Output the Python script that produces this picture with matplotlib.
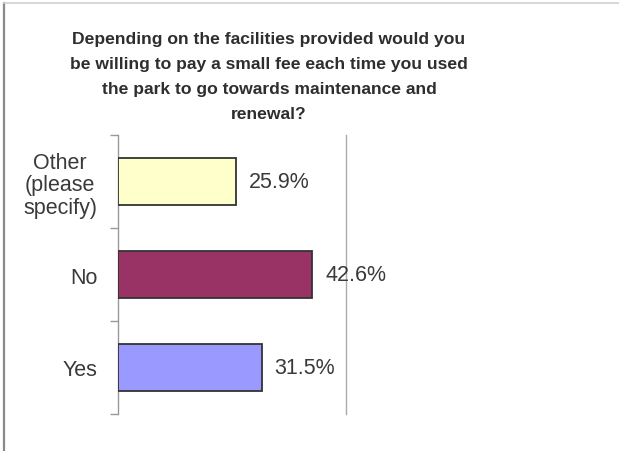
import matplotlib
matplotlib.use("Agg")
import matplotlib.pyplot as plt
from matplotlib.lines import Line2D

plt.rcParams['font.family'] = ['Liberation Sans', 'DejaVu Sans']

categories = ["Yes", "No", "Other\n(please\nspecify)"]
values = [31.5, 42.6, 25.9]
colors = ["#9999FF", "#993366", "#FFFFCC"]
title = ("Depending on the facilities provided would you\n"
         "be willing to pay a small fee each time you used\n"
         "the park to go towards maintenance and\n"
         "renewal?")

W, H = 619, 452
fig = plt.figure(figsize=(W / 100, H / 100), dpi=100)
fig.patch.set_facecolor("white")

# outer frame: left and top edges only
fig.add_artist(Line2D([3.5 / W, 3.5 / W], [0, 1 - 4 / H], color="#8a8a8a", lw=1.6))
fig.add_artist(Line2D([3.5 / W, 1], [1 - 4 / H, 1 - 4 / H], color="#cfcfcf", lw=1.2))

ax = fig.add_axes([118 / W, 1 - 415 / H, (346 - 118) / W, (415 - 136) / H])
ypos = list(range(len(categories)))
ax.barh(ypos, values, height=0.5, color=colors, edgecolor="#333333", linewidth=1.3, zorder=3)

ax.set_xlim(0, 50)
ax.set_ylim(-0.5, len(categories) - 0.5)

for y, v in zip(ypos, values):
    ax.annotate(f"{v:.1f}%", (v, y), xytext=(9.4, 0), textcoords="offset points",
                ha="left", va="center", fontsize=15.5, color="#3a3a3a", zorder=4)

ax.set_yticks(ypos)
ax.set_yticklabels(categories, fontsize=15.5, color="#3a3a3a", multialignment="center",
                   linespacing=1.1)
ax.tick_params(axis="y", which="major", length=0, pad=15)
ax.set_yticks([y - 0.5 for y in ypos] + [ypos[-1] + 0.5], minor=True)
ax.tick_params(axis="y", which="minor", length=6, color="#999999", width=1)
ax.set_xticks([])

for s in ["top", "bottom"]:
    ax.spines[s].set_visible(False)
ax.spines["left"].set_color("#999999")
ax.spines["right"].set_color("#aaaaaa")
ax.spines["left"].set_linewidth(1)
ax.spines["right"].set_linewidth(1)

fig.text(269 / W, 1 - 32 / H, title, ha="center", va="top", fontsize=12.6,
         fontweight="bold", color="#2e2e2e", linespacing=1.82)

fig.savefig("out.png", dpi=100)
